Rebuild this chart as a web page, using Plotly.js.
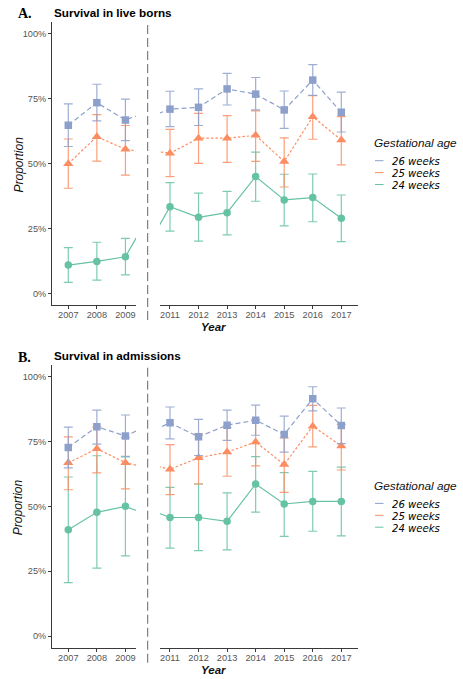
<!DOCTYPE html>
<html>
<head>
<meta charset="utf-8">
<script src="https://cdn.plot.ly/plotly-3.0.1.min.js"></script>
<style>
html,body{margin:0;padding:0;background:#fff;}
#chart{width:463px;height:679px;}
</style>
</head>
<body>
<div id="chart"></div>
<script>
// ---------- data ----------
const years = ['2007','2008','2009','2011','2012','2013','2014','2015','2016','2017'];
const groups = ['26 weeks','25 weeks','24 weeks'];
const legendTitle = 'Gestational age';
const panelLabels = ['A.','B.'];
const panelTitles = ['Survival in live borns','Survival in admissions'];
const yTickVals = [0,25,50,75,100];
const yTickText = ['0%','25%','50%','75%','100%'];
const xTitle = 'Year';
const yTitle = 'Proportion';

// A. Survival in live borns (%)
const live26   = [64.8,73.5,66.8,71.0,71.7,78.8,76.8,70.7,82.2,69.8];
const live26Lo = [56.6,66.5,58.9,64.3,64.7,72.6,70.7,63.6,76.3,62.2];
const live26Hi = [73.0,80.6,74.9,77.9,78.8,84.8,83.2,78.0,88.2,77.6];
const live25   = [50.0,60.4,55.5,54.0,59.8,59.8,60.9,50.8,68.1,59.1];
const live25Lo = [40.5,51.0,45.6,45.0,50.1,50.5,50.9,41.0,59.4,49.5];
const live25Hi = [59.5,68.9,64.7,63.2,69.4,68.5,70.3,59.9,76.2,68.1];
const live24   = [10.9,12.3,14.1,33.4,29.3,31.1,45.0,36.0,36.9,28.9];
const live24Lo = [4.2,5.1,7.1,24.0,20.1,22.5,35.5,26.0,27.6,19.9];
const live24Hi = [17.6,19.7,21.2,42.7,38.6,39.3,54.4,45.9,46.0,37.9];

// B. Survival in admissions (%)
const adm26   = [72.7,80.7,77.1,82.2,76.8,81.3,83.2,77.7,91.5,81.2];
const adm26Lo = [64.8,74.0,69.3,76.0,69.6,75.4,77.4,70.9,86.8,74.2];
const adm26Hi = [80.5,87.1,85.2,88.3,83.5,87.1,89.0,84.8,96.1,87.9];
const adm25   = [66.8,72.2,66.8,64.3,68.7,70.9,74.8,66.1,80.9,73.3];
const adm25Lo = [56.4,62.9,56.7,54.5,58.6,61.6,65.6,55.4,72.9,64.0];
const adm25Hi = [76.8,80.5,76.5,73.8,77.9,80.3,83.3,76.4,88.9,81.6];
const adm24   = [41.0,47.7,50.0,45.7,45.7,44.2,58.6,50.9,51.9,51.9];
const adm24Lo = [20.6,26.2,30.9,33.9,32.9,33.2,47.8,38.4,40.4,38.6];
const adm24Hi = [61.3,69.5,69.1,57.3,58.6,55.2,69.2,63.0,63.5,65.1];

// ---------- styles ----------
const colors  = ['#8DA0CB','#FC8D62','#66C2A5'];
const errCols = ['rgba(141,160,203,0.85)','rgba(252,141,98,0.85)','rgba(102,194,165,0.85)'];
const dashes  = ['5px,3px','2.5px,2px','solid'];
const symbols = ['square','triangle-up','circle'];
const msizes  = [7.5,9,7.5];

const W = 463, H = 679;
const px = v => v / W;
const py = v => 1 - v / H;
const panelShift = 342.7;

const panels = [
  {series:[[live26,live26Lo,live26Hi],[live25,live25Lo,live25Hi],[live24,live24Lo,live24Hi]], xa:['x','x2'], ya:'y'},
  {series:[[adm26,adm26Lo,adm26Hi],[adm25,adm25Lo,adm25Hi],[adm24,adm24Lo,adm24Hi]], xa:['x3','x4'], ya:'y2'}
];

const traces = [];
panels.forEach(p => {
  [2,1,0].forEach(g => {
    const [v, lo, hi] = p.series[g];
    p.xa.forEach(xa => {
      traces.push({
        type:'scatter', mode:'lines+markers',
        x: years, y: v,
        xaxis: xa, yaxis: p.ya,
        name: groups[g], showlegend:false, cliponaxis:true,
        line:{color:colors[g], width:1.2, dash:dashes[g]},
        marker:{color:colors[g], symbol:symbols[g], size:msizes[g], line:{width:0}},
        error_y:{type:'data', symmetric:false,
          array: hi.map((h,i)=> +(h - v[i]).toFixed(2)),
          arrayminus: lo.map((l,i)=> +(v[i] - l).toFixed(2)),
          color: errCols[g], thickness:1.2, width:4.5}
      });
    });
  });
});

const axisCommon = {
  showline:true, linecolor:'#3a3a3a', linewidth:1,
  ticks:'outside', ticklen:3, tickcolor:'#3a3a3a', tickwidth:1,
  showgrid:false, zeroline:false, fixedrange:true,
  tickfont:{family:'Liberation Sans, Arial, sans-serif', size:9.2, color:'#555555'}
};
const xLeftDom  = [px(52), px(136)];
const xRightDom = [px(160), px(358)];
const xCat = {type:'category', categoryorder:'array', categoryarray:years, ticklabelstandoff:-2};

const layout = {
  width:W, height:H,
  margin:{l:0,r:0,t:0,b:0},
  paper_bgcolor:'#ffffff', plot_bgcolor:'#ffffff',
  showlegend:false,
  xaxis: Object.assign({}, axisCommon, xCat, {domain:xLeftDom,  anchor:'y',  range:[-0.57, 2.37]}),
  xaxis2:Object.assign({}, axisCommon, xCat, {domain:xRightDom, anchor:'y',  range:[2.65, 9.585]}),
  xaxis3:Object.assign({}, axisCommon, xCat, {domain:xLeftDom,  anchor:'y2', range:[-0.57, 2.37]}),
  xaxis4:Object.assign({}, axisCommon, xCat, {domain:xRightDom, anchor:'y2', range:[2.65, 9.585]}),
  yaxis: Object.assign({}, axisCommon, {domain:[py(305), py(22)], anchor:'x', range:[-4.5,104.6],
          tickmode:'array', tickvals:yTickVals, ticktext:yTickText}),
  yaxis2:Object.assign({}, axisCommon, {domain:[py(305+panelShift), py(22+panelShift)], anchor:'x3', range:[-4.5,104.6],
          tickmode:'array', tickvals:yTickVals, ticktext:yTickText}),
  annotations:[], shapes:[]
};

const sans = 'Liberation Sans, Arial, sans-serif';
[0,1].forEach(k => {
  const dy = k * panelShift;
  layout.annotations.push(
    {text:'<b>'+panelLabels[k]+'</b>', xref:'paper', yref:'paper', x:px(16), y:py(13 + dy + (k?2:0)),
     xanchor:'left', yanchor:'middle', showarrow:false,
     font:{family:'Liberation Serif, Times New Roman, serif', size:14, color:'#000'}},
    {text:'<b>'+panelTitles[k]+'</b>', xref:'paper', yref:'paper', x:px(51.5), y:py(12.7 + dy),
     xanchor:'left', yanchor:'middle', showarrow:false,
     font:{family:sans, size:11.7, color:'#000'}},
    {text:'<i>'+yTitle+'</i>', xref:'paper', yref:'paper', x:px(18), y:py(164.5 + dy), textangle:-90,
     xanchor:'center', yanchor:'middle', showarrow:false,
     font:{family:sans, size:12, color:'#111'}},
    {text:'<b><i>'+xTitle+'</i></b>', xref:'paper', yref:'paper', x:px(213), y:py(327 + dy),
     xanchor:'center', yanchor:'middle', showarrow:false,
     font:{family:sans, size:11.5, color:'#111'}},
    {text:'<i>'+legendTitle+'</i>', xref:'paper', yref:'paper', x:px(371.5), y:py(143.3 + dy),
     xanchor:'left', yanchor:'middle', showarrow:false,
     font:{family:sans, size:11.8, color:'#111'}}
  );
  groups.forEach((gname, g) => {
    const yc = 161.7 + g * 11.9 + dy;
    layout.annotations.push({text:'<i>'+gname+'</i>', xref:'paper', yref:'paper', x:px(390.5), y:py(yc),
      xanchor:'left', yanchor:'middle', showarrow:false, borderpad:0,
      font:{family:'DejaVu Sans, sans-serif', size:10.1, color:'#000'}});
    layout.shapes.push({type:'line', xref:'paper', yref:'paper', x0:px(375), x1:px(383.5), y0:py(yc-1), y1:py(yc-1),
      line:{color:colors[g], width:1}});
  });
  layout.shapes.push({type:'line', xref:'paper', yref:'paper', x0:px(147.7), x1:px(147.7),
    y0:py(320 + dy), y1:py(22 + dy), line:{color:'#666666', width:1, dash:'9px,4px'}});
});

Plotly.newPlot('chart', traces, layout, {staticPlot:true, displayModeBar:false});
</script>
</body>
</html>
